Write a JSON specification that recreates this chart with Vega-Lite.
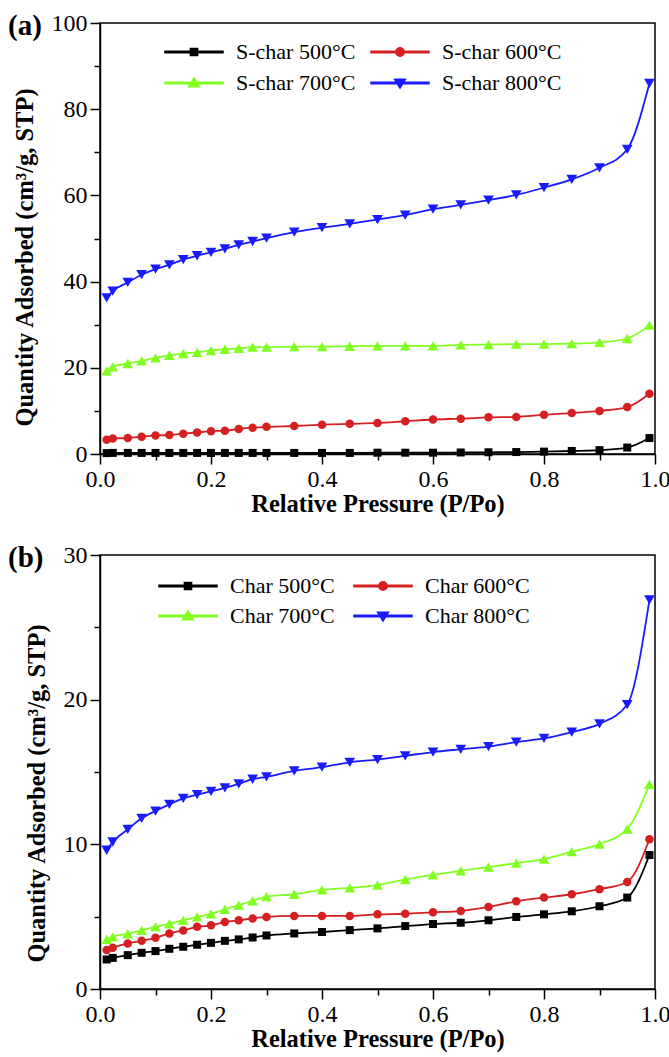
{
  "$schema": "https://vega.github.io/schema/vega-lite/v6.json",
  "background": "white",
  "padding": {"left": 7, "top": 10, "right": 12, "bottom": 3},
  "spacing": 25,
  "resolve": {"scale": {"color": "independent", "shape": "independent"}, "legend": {"color": "independent", "shape": "independent"}},
  "config": {
    "font": "Liberation Serif",
    "view": {"stroke": "black", "strokeWidth": 1.5},
    "axis": {"domainColor": "black", "domainWidth": 1.5, "tickColor": "black", "tickWidth": 1.5, "labelFont": "Liberation Serif", "labelFontSize": 24, "labelColor": "black", "titleFont": "Liberation Serif", "titleFontSize": 24.5, "titleFontWeight": "bold", "titleColor": "black", "grid": false, "labelPadding": 3, "labelOverlap": false},
    "legend": {"labelFont": "Liberation Serif"},
    "title": {"font": "Liberation Serif", "fontSize": 29, "fontWeight": "bold", "color": "black"}
  },
  "datasets": {
    "a": [
      {"s":"S-char 500°C","x":0.012,"y":0.2},{"s":"S-char 500°C","x":0.023,"y":0.25},{"s":"S-char 500°C","x":0.05,"y":0.25},{"s":"S-char 500°C","x":0.075,"y":0.25},{"s":"S-char 500°C","x":0.1,"y":0.25},{"s":"S-char 500°C","x":0.125,"y":0.25},{"s":"S-char 500°C","x":0.15,"y":0.25},{"s":"S-char 500°C","x":0.175,"y":0.25},{"s":"S-char 500°C","x":0.2,"y":0.25},{"s":"S-char 500°C","x":0.225,"y":0.25},{"s":"S-char 500°C","x":0.25,"y":0.25},{"s":"S-char 500°C","x":0.275,"y":0.25},{"s":"S-char 500°C","x":0.3,"y":0.25},{"s":"S-char 500°C","x":0.35,"y":0.25},{"s":"S-char 500°C","x":0.4,"y":0.25},{"s":"S-char 500°C","x":0.45,"y":0.25},{"s":"S-char 500°C","x":0.5,"y":0.3},{"s":"S-char 500°C","x":0.55,"y":0.3},{"s":"S-char 500°C","x":0.6,"y":0.3},{"s":"S-char 500°C","x":0.65,"y":0.35},{"s":"S-char 500°C","x":0.7,"y":0.4},{"s":"S-char 500°C","x":0.75,"y":0.45},{"s":"S-char 500°C","x":0.8,"y":0.55},{"s":"S-char 500°C","x":0.85,"y":0.7},{"s":"S-char 500°C","x":0.9,"y":0.9},{"s":"S-char 500°C","x":0.95,"y":1.5},{"s":"S-char 500°C","x":0.99,"y":3.7},
      {"s":"S-char 600°C","x":0.012,"y":3.3},{"s":"S-char 600°C","x":0.023,"y":3.6},{"s":"S-char 600°C","x":0.05,"y":3.7},{"s":"S-char 600°C","x":0.075,"y":4.0},{"s":"S-char 600°C","x":0.1,"y":4.3},{"s":"S-char 600°C","x":0.125,"y":4.4},{"s":"S-char 600°C","x":0.15,"y":4.7},{"s":"S-char 600°C","x":0.175,"y":5.0},{"s":"S-char 600°C","x":0.2,"y":5.3},{"s":"S-char 600°C","x":0.225,"y":5.4},{"s":"S-char 600°C","x":0.25,"y":5.8},{"s":"S-char 600°C","x":0.275,"y":6.1},{"s":"S-char 600°C","x":0.3,"y":6.3},{"s":"S-char 600°C","x":0.35,"y":6.5},{"s":"S-char 600°C","x":0.4,"y":6.8},{"s":"S-char 600°C","x":0.45,"y":7.0},{"s":"S-char 600°C","x":0.5,"y":7.2},{"s":"S-char 600°C","x":0.55,"y":7.6},{"s":"S-char 600°C","x":0.6,"y":8.0},{"s":"S-char 600°C","x":0.65,"y":8.2},{"s":"S-char 600°C","x":0.7,"y":8.5},{"s":"S-char 600°C","x":0.75,"y":8.6},{"s":"S-char 600°C","x":0.8,"y":9.1},{"s":"S-char 600°C","x":0.85,"y":9.5},{"s":"S-char 600°C","x":0.9,"y":10.0},{"s":"S-char 600°C","x":0.95,"y":10.9},{"s":"S-char 600°C","x":0.99,"y":14.0},
      {"s":"S-char 700°C","x":0.012,"y":19.3},{"s":"S-char 700°C","x":0.023,"y":20.2},{"s":"S-char 700°C","x":0.05,"y":21.0},{"s":"S-char 700°C","x":0.075,"y":21.6},{"s":"S-char 700°C","x":0.1,"y":22.3},{"s":"S-char 700°C","x":0.125,"y":22.9},{"s":"S-char 700°C","x":0.15,"y":23.3},{"s":"S-char 700°C","x":0.175,"y":23.6},{"s":"S-char 700°C","x":0.2,"y":24.0},{"s":"S-char 700°C","x":0.225,"y":24.3},{"s":"S-char 700°C","x":0.25,"y":24.5},{"s":"S-char 700°C","x":0.275,"y":24.8},{"s":"S-char 700°C","x":0.3,"y":24.8},{"s":"S-char 700°C","x":0.35,"y":24.9},{"s":"S-char 700°C","x":0.4,"y":24.9},{"s":"S-char 700°C","x":0.45,"y":25.0},{"s":"S-char 700°C","x":0.5,"y":25.1},{"s":"S-char 700°C","x":0.55,"y":25.1},{"s":"S-char 700°C","x":0.6,"y":25.1},{"s":"S-char 700°C","x":0.65,"y":25.3},{"s":"S-char 700°C","x":0.7,"y":25.4},{"s":"S-char 700°C","x":0.75,"y":25.5},{"s":"S-char 700°C","x":0.8,"y":25.5},{"s":"S-char 700°C","x":0.85,"y":25.6},{"s":"S-char 700°C","x":0.9,"y":25.9},{"s":"S-char 700°C","x":0.95,"y":26.8},{"s":"S-char 700°C","x":0.99,"y":29.9},
      {"s":"S-char 800°C","x":0.012,"y":36.2},{"s":"S-char 800°C","x":0.023,"y":37.8},{"s":"S-char 800°C","x":0.05,"y":39.8},{"s":"S-char 800°C","x":0.075,"y":41.6},{"s":"S-char 800°C","x":0.1,"y":42.9},{"s":"S-char 800°C","x":0.125,"y":43.9},{"s":"S-char 800°C","x":0.15,"y":45.1},{"s":"S-char 800°C","x":0.175,"y":46.0},{"s":"S-char 800°C","x":0.2,"y":46.8},{"s":"S-char 800°C","x":0.225,"y":47.6},{"s":"S-char 800°C","x":0.25,"y":48.5},{"s":"S-char 800°C","x":0.275,"y":49.3},{"s":"S-char 800°C","x":0.3,"y":50.1},{"s":"S-char 800°C","x":0.35,"y":51.5},{"s":"S-char 800°C","x":0.4,"y":52.5},{"s":"S-char 800°C","x":0.45,"y":53.4},{"s":"S-char 800°C","x":0.5,"y":54.4},{"s":"S-char 800°C","x":0.55,"y":55.4},{"s":"S-char 800°C","x":0.6,"y":56.8},{"s":"S-char 800°C","x":0.65,"y":57.8},{"s":"S-char 800°C","x":0.7,"y":58.9},{"s":"S-char 800°C","x":0.75,"y":60.1},{"s":"S-char 800°C","x":0.8,"y":61.8},{"s":"S-char 800°C","x":0.85,"y":63.7},{"s":"S-char 800°C","x":0.9,"y":66.4},{"s":"S-char 800°C","x":0.95,"y":70.7},{"s":"S-char 800°C","x":0.99,"y":86.0}
    ],
    "b": [
      {"s":"Char 500°C","x":0.012,"y":2.04},{"s":"Char 500°C","x":0.023,"y":2.15},{"s":"Char 500°C","x":0.05,"y":2.34},{"s":"Char 500°C","x":0.075,"y":2.5},{"s":"Char 500°C","x":0.1,"y":2.62},{"s":"Char 500°C","x":0.125,"y":2.78},{"s":"Char 500°C","x":0.15,"y":2.92},{"s":"Char 500°C","x":0.175,"y":3.06},{"s":"Char 500°C","x":0.2,"y":3.19},{"s":"Char 500°C","x":0.225,"y":3.33},{"s":"Char 500°C","x":0.25,"y":3.43},{"s":"Char 500°C","x":0.275,"y":3.56},{"s":"Char 500°C","x":0.3,"y":3.7},{"s":"Char 500°C","x":0.35,"y":3.84},{"s":"Char 500°C","x":0.4,"y":3.94},{"s":"Char 500°C","x":0.45,"y":4.07},{"s":"Char 500°C","x":0.5,"y":4.19},{"s":"Char 500°C","x":0.55,"y":4.35},{"s":"Char 500°C","x":0.6,"y":4.49},{"s":"Char 500°C","x":0.65,"y":4.58},{"s":"Char 500°C","x":0.7,"y":4.75},{"s":"Char 500°C","x":0.75,"y":4.98},{"s":"Char 500°C","x":0.8,"y":5.16},{"s":"Char 500°C","x":0.85,"y":5.37},{"s":"Char 500°C","x":0.9,"y":5.72},{"s":"Char 500°C","x":0.95,"y":6.32},{"s":"Char 500°C","x":0.99,"y":9.26},
      {"s":"Char 600°C","x":0.012,"y":2.69},{"s":"Char 600°C","x":0.023,"y":2.85},{"s":"Char 600°C","x":0.05,"y":3.15},{"s":"Char 600°C","x":0.075,"y":3.33},{"s":"Char 600°C","x":0.1,"y":3.54},{"s":"Char 600°C","x":0.125,"y":3.84},{"s":"Char 600°C","x":0.15,"y":4.05},{"s":"Char 600°C","x":0.175,"y":4.3},{"s":"Char 600°C","x":0.2,"y":4.4},{"s":"Char 600°C","x":0.225,"y":4.63},{"s":"Char 600°C","x":0.25,"y":4.75},{"s":"Char 600°C","x":0.275,"y":4.88},{"s":"Char 600°C","x":0.3,"y":4.98},{"s":"Char 600°C","x":0.35,"y":5.05},{"s":"Char 600°C","x":0.4,"y":5.05},{"s":"Char 600°C","x":0.45,"y":5.05},{"s":"Char 600°C","x":0.5,"y":5.16},{"s":"Char 600°C","x":0.55,"y":5.2},{"s":"Char 600°C","x":0.6,"y":5.3},{"s":"Char 600°C","x":0.65,"y":5.39},{"s":"Char 600°C","x":0.7,"y":5.67},{"s":"Char 600°C","x":0.75,"y":6.06},{"s":"Char 600°C","x":0.8,"y":6.32},{"s":"Char 600°C","x":0.85,"y":6.55},{"s":"Char 600°C","x":0.9,"y":6.9},{"s":"Char 600°C","x":0.95,"y":7.4},{"s":"Char 600°C","x":0.99,"y":10.35},
      {"s":"Char 700°C","x":0.012,"y":3.43},{"s":"Char 700°C","x":0.023,"y":3.61},{"s":"Char 700°C","x":0.05,"y":3.82},{"s":"Char 700°C","x":0.075,"y":4.05},{"s":"Char 700°C","x":0.1,"y":4.3},{"s":"Char 700°C","x":0.125,"y":4.51},{"s":"Char 700°C","x":0.15,"y":4.75},{"s":"Char 700°C","x":0.175,"y":4.98},{"s":"Char 700°C","x":0.2,"y":5.2},{"s":"Char 700°C","x":0.225,"y":5.5},{"s":"Char 700°C","x":0.25,"y":5.8},{"s":"Char 700°C","x":0.275,"y":6.09},{"s":"Char 700°C","x":0.3,"y":6.39},{"s":"Char 700°C","x":0.35,"y":6.55},{"s":"Char 700°C","x":0.4,"y":6.85},{"s":"Char 700°C","x":0.45,"y":6.99},{"s":"Char 700°C","x":0.5,"y":7.18},{"s":"Char 700°C","x":0.55,"y":7.57},{"s":"Char 700°C","x":0.6,"y":7.89},{"s":"Char 700°C","x":0.65,"y":8.17},{"s":"Char 700°C","x":0.7,"y":8.43},{"s":"Char 700°C","x":0.75,"y":8.7},{"s":"Char 700°C","x":0.8,"y":8.98},{"s":"Char 700°C","x":0.85,"y":9.49},{"s":"Char 700°C","x":0.9,"y":10.02},{"s":"Char 700°C","x":0.95,"y":11.06},{"s":"Char 700°C","x":0.99,"y":14.14},
      {"s":"Char 800°C","x":0.012,"y":9.59},{"s":"Char 800°C","x":0.023,"y":10.16},{"s":"Char 800°C","x":0.05,"y":11.03},{"s":"Char 800°C","x":0.075,"y":11.8},{"s":"Char 800°C","x":0.1,"y":12.3},{"s":"Char 800°C","x":0.125,"y":12.76},{"s":"Char 800°C","x":0.15,"y":13.18},{"s":"Char 800°C","x":0.175,"y":13.43},{"s":"Char 800°C","x":0.2,"y":13.66},{"s":"Char 800°C","x":0.225,"y":13.9},{"s":"Char 800°C","x":0.25,"y":14.18},{"s":"Char 800°C","x":0.275,"y":14.5},{"s":"Char 800°C","x":0.3,"y":14.67},{"s":"Char 800°C","x":0.35,"y":15.08},{"s":"Char 800°C","x":0.4,"y":15.33},{"s":"Char 800°C","x":0.45,"y":15.67},{"s":"Char 800°C","x":0.5,"y":15.86},{"s":"Char 800°C","x":0.55,"y":16.12},{"s":"Char 800°C","x":0.6,"y":16.38},{"s":"Char 800°C","x":0.65,"y":16.57},{"s":"Char 800°C","x":0.7,"y":16.75},{"s":"Char 800°C","x":0.75,"y":17.07},{"s":"Char 800°C","x":0.8,"y":17.32},{"s":"Char 800°C","x":0.85,"y":17.76},{"s":"Char 800°C","x":0.9,"y":18.33},{"s":"Char 800°C","x":0.95,"y":19.66},{"s":"Char 800°C","x":0.99,"y":26.9}
    ]
  },
  "vconcat": [
    {
      "width": 555, "height": 431,
      "title": {"text": "(a)", "anchor": "start", "frame": "group", "dx": -92, "baseline": "middle", "offset": -44},
      "data": {"name": "a"},
      "encoding": {
        "x": {"field": "x", "type": "quantitative", "scale": {"domain": [0, 1]},
          "axis": {"title": "Relative Pressure (P/Po)", "values": [0,0.1,0.2,0.3,0.4,0.5,0.6,0.7,0.8,0.9,1.0], "labelFlush": false,
            "labelExpr": "round(datum.value*10) % 2 === 0 ? format(datum.value, '.1f') : ''",
            "tickSize": {"condition": {"test": "round(datum.value*10) % 2 === 0", "value": 10}, "value": 6}, "titlePadding": 1}},
        "y": {"field": "y", "type": "quantitative", "scale": {"domain": [0, 100]},
          "axis": {"title": "Quantity Adsorbed (cm³/g, STP)", "values": [0,10,20,30,40,50,60,70,80,90,100],
            "labelExpr": "datum.value % 20 === 0 ? datum.label : ''", "titleY": 234,
            "tickSize": {"condition": {"test": "datum.value % 20 === 0", "value": 10}, "value": 6}, "titlePadding": 14}},
        "color": {"field": "s", "type": "nominal",
          "scale": {"domain": ["S-char 500°C","S-char 600°C","S-char 700°C","S-char 800°C"], "range": ["#000000","#d42020","#80ff20","#1a1aff"]},
          "legend": {"orient": "none", "legendX": 83, "legendY": 18, "columns": 2, "direction": "horizontal", "title": null, "padding": 0,
            "labelFontSize": 22, "labelColor": "black", "labelOffset": 31, "labelLimit": 300,
            "columnPadding": 12, "rowPadding": 9, "symbolSize": 64, "symbolOpacity": 1}}
      },
      "layer": [
        {"mark": {"type": "line", "interpolate": "monotone", "strokeWidth": 1.8}},
        {"transform": [{"filter": {"field": "s", "equal": "S-char 500°C"}}], "mark": {"type": "point", "filled": true, "opacity": 1, "shape": "square", "size": 64}},
        {"transform": [{"filter": {"field": "s", "equal": "S-char 600°C"}}], "mark": {"type": "point", "filled": true, "opacity": 1, "shape": "circle", "size": 72}},
        {"transform": [{"filter": {"field": "s", "equal": "S-char 700°C"}}], "mark": {"type": "point", "filled": true, "opacity": 1, "shape": "triangle-up", "size": 115}},
        {"transform": [{"filter": {"field": "s", "equal": "S-char 800°C"}}], "mark": {"type": "point", "filled": true, "opacity": 1, "shape": "triangle-down", "size": 115}},
        {"mark": {"type": "point", "filled": true, "opacity": 1, "size": 0},
          "encoding": {"shape": {"field": "s", "type": "nominal",
            "scale": {"domain": ["S-char 500°C","S-char 600°C","S-char 700°C","S-char 800°C"],
              "range": ["M-7.25,-0.2H7.25V0.2H-7.25ZM-0.9,-0.9H0.9V0.9H-0.9Z", "M-7.25,-0.2H7.25V0.2H-7.25ZM-1.05,0A1.05,1.05 0 1,1 1.05,0A1.05,1.05 0 1,1 -1.05,0Z", "M-7.25,-0.2H7.25V0.2H-7.25ZM0,-1.25L1.35,0.95H-1.35Z", "M-7.25,-0.2H7.25V0.2H-7.25ZM0,1.25L-1.35,-0.95H1.35Z"]}}}}
      ]
    },
    {
      "width": 555, "height": 434,
      "title": {"text": "(b)", "anchor": "start", "frame": "group", "dx": -92, "baseline": "middle", "offset": -44},
      "data": {"name": "b"},
      "encoding": {
        "x": {"field": "x", "type": "quantitative", "scale": {"domain": [0, 1]},
          "axis": {"title": "Relative Pressure (P/Po)", "values": [0,0.1,0.2,0.3,0.4,0.5,0.6,0.7,0.8,0.9,1.0], "labelFlush": false,
            "labelExpr": "round(datum.value*10) % 2 === 0 ? format(datum.value, '.1f') : ''",
            "tickSize": {"condition": {"test": "round(datum.value*10) % 2 === 0", "value": 10}, "value": 6}, "titlePadding": 1}},
        "y": {"field": "y", "type": "quantitative", "scale": {"domain": [0, 30]},
          "axis": {"title": "Quantity Adsorbed (cm³/g, STP)", "values": [0,5,10,15,20,25,30],
            "labelExpr": "datum.value % 10 === 0 ? datum.label : ''", "titleY": 238,
            "tickSize": {"condition": {"test": "datum.value % 10 === 0", "value": 10}, "value": 6}, "titlePadding": 14}},
        "color": {"field": "s", "type": "nominal",
          "scale": {"domain": ["Char 500°C","Char 600°C","Char 700°C","Char 800°C"], "range": ["#000000","#d42020","#80ff20","#1a1aff"]},
          "legend": {"orient": "none", "legendX": 77, "legendY": 20, "columns": 2, "direction": "horizontal", "title": null, "padding": 0,
            "labelFontSize": 22, "labelColor": "black", "labelOffset": 31, "labelLimit": 300,
            "columnPadding": 16, "rowPadding": 8, "symbolSize": 64, "symbolOpacity": 1}}
      },
      "layer": [
        {"mark": {"type": "line", "interpolate": "monotone", "strokeWidth": 1.8}},
        {"transform": [{"filter": {"field": "s", "equal": "Char 500°C"}}], "mark": {"type": "point", "filled": true, "opacity": 1, "shape": "square", "size": 64}},
        {"transform": [{"filter": {"field": "s", "equal": "Char 600°C"}}], "mark": {"type": "point", "filled": true, "opacity": 1, "shape": "circle", "size": 72}},
        {"transform": [{"filter": {"field": "s", "equal": "Char 700°C"}}], "mark": {"type": "point", "filled": true, "opacity": 1, "shape": "triangle-up", "size": 115}},
        {"transform": [{"filter": {"field": "s", "equal": "Char 800°C"}}], "mark": {"type": "point", "filled": true, "opacity": 1, "shape": "triangle-down", "size": 115}},
        {"mark": {"type": "point", "filled": true, "opacity": 1, "size": 0},
          "encoding": {"shape": {"field": "s", "type": "nominal",
            "scale": {"domain": ["Char 500°C","Char 600°C","Char 700°C","Char 800°C"],
              "range": ["M-7.25,-0.2H7.25V0.2H-7.25ZM-0.9,-0.9H0.9V0.9H-0.9Z", "M-7.25,-0.2H7.25V0.2H-7.25ZM-1.05,0A1.05,1.05 0 1,1 1.05,0A1.05,1.05 0 1,1 -1.05,0Z", "M-7.25,-0.2H7.25V0.2H-7.25ZM0,-1.25L1.35,0.95H-1.35Z", "M-7.25,-0.2H7.25V0.2H-7.25ZM0,1.25L-1.35,-0.95H1.35Z"]}}}}
      ]
    }
  ]
}
